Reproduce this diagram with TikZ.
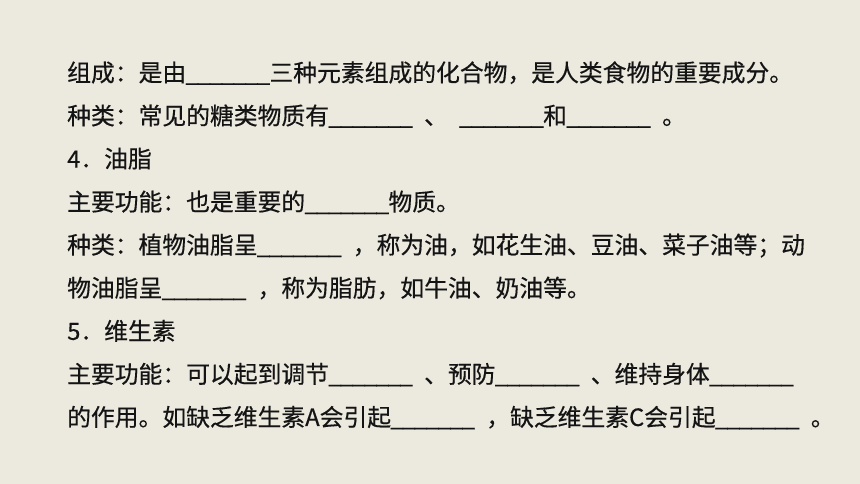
\documentclass[tikz,border=0pt]{standalone}
\usepackage{fontspec}
\setmainfont{Noto Sans CJK SC}[FakeBold=0.4]
\usepackage{tikz}
\usetikzlibrary{positioning}
\definecolor{slidebg}{HTML}{ECE9DF}
\definecolor{ink}{HTML}{141414}
\newcommand{\us}{\makebox[.5em]{\_}}
\newcommand{\blank}{\us\us\us\us\us\us\us}
\newcommand{\hsp}{\hspace{.5em}}
\tikzset{line/.style={anchor=base west, inner sep=0pt, text=ink, font=\fontsize{23.8pt}{28pt}\selectfont}}

\begin{document}
\begin{tikzpicture}[x=1pt, y=1pt]
                % Slide background
                \fill[slidebg] (0,0) rectangle (860,484);
                \useasboundingbox (0,0) rectangle (860,484);

                % Lines of text, one node each
                \foreach \i/\txt in {
                  1/{组成：是由\blank{}三种元素组成的化合物，是人类食物的重要成分。},
                  2/{种类：常见的糖类物质有\blank\hsp、\hsp\blank{}和\blank\hsp。},
                  3/{4．油脂},
                  4/{主要功能：也是重要的\blank{}物质。},
                  5/{种类：植物油脂呈\blank\hsp，称为油，如花生油、豆油、菜子油等；动},
                  6/{物油脂呈\blank\hsp，称为脂肪，如牛油、奶油等。},
                  7/{5．维生素},
                  8/{主要功能：可以起到调节\blank\hsp、预防\blank\hsp、维持身体\blank},
                  9/{的作用。如缺乏维生素A会引起\blank\hsp，缺乏维生素C会引起\blank\hsp。}}
                \node[line] (L\i) at (67, {402.5-43.06*(\i-1)}) {\txt};
            \end{tikzpicture}
\end{document}
